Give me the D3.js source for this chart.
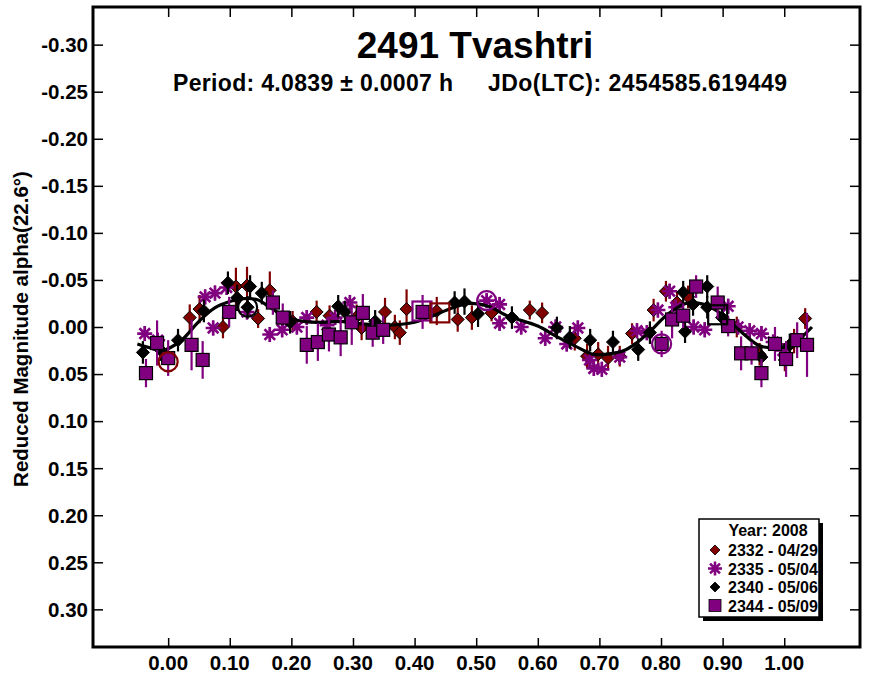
<!DOCTYPE html>
<html><head><meta charset="utf-8">
<script src="https://cdn.jsdelivr.net/npm/d3@7"></script>
<style>
body{margin:0;background:#fff}
svg{display:block}
text{font-family:"Liberation Sans",Arial,sans-serif;font-weight:bold;fill:#000}
</style>
</head><body>
<svg id="chart" width="869" height="678"></svg>
<script>
// ---------- data ----------
const titleText = "2491 Tvashtri";
const subtitleLeft = "Period: 4.0839 \u00b1 0.0007 h";
const subtitleRight = "JDo(LTC): 2454585.619449";
const yLabelText = "Reduced Magnitude alpha(22.6\u00b0)";
const legendTitle = "Year: 2008";
const sessionNames = ["2332 - 04/29", "2335 - 05/04", "2340 - 05/06", "2344 - 05/09"];
const xTickValues = [0.0, 0.1, 0.2, 0.3, 0.4, 0.5, 0.6, 0.7, 0.8, 0.9, 1.0];
const yTickValues = [-0.30, -0.25, -0.20, -0.15, -0.10, -0.05, 0.00, 0.05, 0.10, 0.15, 0.20, 0.25, 0.30];

// [phase, reduced mag, error]
const s2332 = [
  [0.035,-0.010,0.014],[0.051,-0.019,0.015],[0.089,0.000,0.012],[0.110,-0.043,0.020],[0.128,-0.044,0.020],
  [0.146,-0.009,0.010],[0.165,-0.039,0.020],[0.202,-0.006,0.011],[0.241,-0.016,0.012],[0.262,-0.012,0.011],
  [0.306,-0.011,0.013],[0.314,0.001,0.013],[0.352,-0.016,0.015],[0.368,0.000,0.013],[0.376,0.006,0.013],
  [0.387,-0.019,0.021],[0.436,-0.017,0.015],[0.470,-0.008,0.013],[0.493,-0.010,0.013],[0.525,-0.015,0.009],
  [0.587,-0.018,0.010],[0.607,-0.015,0.011],[0.660,0.012,0.013],[0.680,0.031,0.013],[0.698,0.029,0.013],
  [0.714,0.033,0.013],[0.733,0.031,0.011],[0.753,0.007,0.011],[0.788,-0.018,0.012],[0.808,-0.038,0.011],
  [0.826,-0.026,0.012],[0.844,-0.032,0.012],[0.923,0.000,0.011],[0.960,0.029,0.012],[1.001,0.035,0.012],
  [1.016,0.015,0.013],[1.034,-0.009,0.011]
];
const s2335 = [
  [-0.038,0.007,0.008],[-0.017,0.014,0.008],[0.060,-0.032,0.008],[0.076,-0.036,0.008],[0.095,-0.042,0.008],
  [0.073,0.001,0.008],[0.128,-0.016,0.008],[0.165,0.008,0.008],[0.185,0.003,0.008],[0.209,0.000,0.008],
  [0.225,-0.010,0.008],[0.258,-0.002,0.008],[0.271,-0.010,0.008],[0.295,-0.026,0.008],[0.517,-0.028,0.008],
  [0.538,-0.024,0.008],[0.538,-0.004,0.008],[0.573,0.000,0.008],[0.612,0.012,0.008],[0.629,0.000,0.008],
  [0.647,0.018,0.008],[0.665,0.001,0.008],[0.684,0.035,0.008],[0.691,0.044,0.008],[0.704,0.045,0.008],
  [0.733,0.032,0.008],[0.761,0.004,0.008],[0.777,0.006,0.008],[0.795,-0.018,0.008],[0.814,-0.038,0.008],
  [0.824,-0.021,0.008],[0.853,0.000,0.008],[0.871,0.003,0.008],[0.909,-0.022,0.008],[0.925,0.000,0.008],
  [0.944,0.004,0.008],[0.963,0.007,0.008],[0.982,0.016,0.008],[0.998,0.025,0.008]
];
const s2340 = [
  [-0.041,0.027,0.012],[-0.013,0.024,0.012],[0.016,0.014,0.012],[0.058,-0.017,0.012],[0.097,-0.047,0.012],
  [0.112,-0.031,0.014],[0.133,-0.043,0.012],[0.152,-0.036,0.012],[0.129,-0.021,0.012],[0.198,-0.005,0.012],
  [0.276,-0.022,0.012],[0.287,-0.016,0.012],[0.336,-0.006,0.012],[0.465,-0.026,0.012],[0.481,-0.027,0.014],
  [0.503,-0.014,0.014],[0.558,-0.010,0.012],[0.631,0.001,0.012],[0.652,0.011,0.012],[0.685,0.014,0.012],
  [0.722,0.016,0.012],[0.763,0.024,0.012],[0.782,0.006,0.012],[0.836,-0.037,0.012],[0.839,0.005,0.012],
  [0.852,-0.024,0.012],[0.875,-0.043,0.012],[0.875,-0.021,0.012],[0.899,-0.010,0.012],[0.963,0.032,0.012],
  [1.009,0.019,0.012]
];
const s2344 = [
  [-0.036,0.049,0.015],[-0.018,0.017,0.024],[0.000,0.033,0.019],[0.038,0.019,0.027],[0.056,0.035,0.020],
  [0.099,-0.016,0.016],[0.170,-0.026,0.013],[0.186,-0.010,0.015],[0.225,0.019,0.020],[0.243,0.016,0.020],
  [0.261,0.008,0.018],[0.280,0.011,0.020],[0.298,-0.005,0.024],[0.316,-0.015,0.020],[0.332,0.006,0.015],
  [0.349,0.003,0.015],[0.413,-0.016,0.018],[0.801,0.018,0.014],[0.818,-0.008,0.020],[0.836,-0.012,0.013],
  [0.857,-0.043,0.012],[0.892,-0.026,0.017],[0.909,-0.001,0.011],[0.930,0.028,0.018],[0.947,0.028,0.012],
  [0.963,0.049,0.015],[0.985,0.018,0.018],[1.003,0.034,0.019],[1.021,0.014,0.019],[1.037,0.019,0.034]
];
// Fourier fit curve [phase, mag]
const fitCurve = [
  [-0.050,0.018],[-0.030,0.022],[-0.010,0.025],[0.020,0.015],[0.050,-0.006],[0.075,-0.020],[0.100,-0.027],
  [0.120,-0.030],[0.145,-0.029],[0.165,-0.021],[0.190,-0.011],[0.220,-0.006],[0.250,-0.005],[0.280,-0.006],
  [0.320,-0.003],[0.360,-0.002],[0.400,-0.005],[0.430,-0.012],[0.460,-0.020],[0.490,-0.025],[0.520,-0.022],
  [0.550,-0.012],[0.600,-0.001],[0.630,0.010],[0.660,0.020],[0.690,0.029],[0.710,0.029],[0.740,0.025],
  [0.760,0.017],[0.780,0.006],[0.810,-0.013],[0.840,-0.025],[0.870,-0.024],[0.900,-0.013],[0.930,0.005],
  [0.960,0.020],[0.990,0.022],[1.010,0.020],[1.045,0.000]
];
// session start markers [phase, mag, sessionIndex, shape]
const startMarks = [
  [0.000,0.037,0,"circle"],[0.129,-0.021,2,"circle"],[0.412,-0.017,3,"square"],[0.441,-0.015,0,"square"],
  [0.517,-0.028,1,"circle"],[0.801,0.018,1,"circle"],[0.892,-0.013,2,"square"]
];

// ---------- layout ----------
const svg = d3.select("#chart");
const L = 93, R = 860, T = 7, B = 647;
const x = d3.scaleLinear().domain([-0.122, 1.123]).range([L, R]);
const y = d3.scaleLinear().domain([-0.34, 0.34]).range([T, B]);
const RED = "#800000", PUR = "#800080", BLK = "#000000";
const colors = [RED, PUR, BLK, PUR];

svg.append("rect").attr("width",869).attr("height",678).attr("fill","#fff");

// axes (ticks inward) via d3 axes
const fmt = d => d3.format(".2f")(d).replace("\u2212","-");
const axL = svg.append("g").attr("transform",`translate(${L},0)`)
  .call(d3.axisRight(y).tickValues(yTickValues).tickSize(10).tickFormat(""));
const axR = svg.append("g").attr("transform",`translate(${R},0)`)
  .call(d3.axisLeft(y).tickValues(yTickValues).tickSize(10).tickFormat(""));
const axB = svg.append("g").attr("transform",`translate(0,${B})`)
  .call(d3.axisTop(x).tickValues(xTickValues).tickSize(9).tickFormat(""));
const axT = svg.append("g").attr("transform",`translate(0,${T})`)
  .call(d3.axisBottom(x).tickValues(xTickValues).tickSize(10).tickFormat(""));
[axL,axR,axB,axT].forEach(g=>{
  g.select(".domain").remove();
  g.selectAll(".tick line").attr("stroke","#000").attr("stroke-width",1.5);
});
// tick labels
svg.append("g").selectAll("text").data(yTickValues).join("text")
  .attr("x", 88).attr("y", d=>y(d)).attr("dy","0.36em")
  .attr("text-anchor","end").style("font-size","20.5px").text(d=>fmt(d));
svg.append("g").selectAll("text").data(xTickValues).join("text")
  .attr("x", d=>x(d)).attr("y", 670)
  .attr("text-anchor","middle").style("font-size","20.5px").text(d=>fmt(d));

// frame
svg.append("rect").attr("x",L).attr("y",T).attr("width",R-L).attr("height",B-T)
  .attr("fill","none").attr("stroke","#000").attr("stroke-width",3);

// titles
svg.append("text").attr("x",475).attr("y",58).attr("text-anchor","middle")
  .style("font-size","37px").text(titleText);
svg.append("text").attr("x",173).attr("y",91).attr("textLength",280).style("font-size","23px").text(subtitleLeft);
svg.append("text").attr("x",488).attr("y",91).attr("textLength",299).style("font-size","23px").text(subtitleRight);
svg.append("text").attr("transform","translate(28,329) rotate(-90)").attr("text-anchor","middle")
  .style("font-size","20.5px").text(yLabelText);

// plotting
const plot = svg.append("g");
function errBars(data, color){
  plot.append("g").selectAll("line").data(data).join("line")
    .attr("x1",d=>x(d[0])).attr("x2",d=>x(d[0]))
    .attr("y1",d=>y(d[1]-d[2])).attr("y2",d=>y(d[1]+d[2]))
    .attr("stroke",color).attr("stroke-width",2.2);
}
function diamonds(data, fill, r){
  plot.append("g").selectAll("path").data(data).join("path")
    .attr("d",d=>{const cx=x(d[0]),cy=y(d[1]);return `M${cx},${cy-r}L${cx+r},${cy}L${cx},${cy+r}L${cx-r},${cy}Z`;})
    .attr("fill",fill).attr("stroke","#000").attr("stroke-width",1);
}
function stars(g, pts, color, r){
  g.selectAll("path").data(pts).join("path")
    .attr("d",d=>{
      const cx=d[0],cy=d[1];let s="";
      for(let k=0;k<4;k++){const a=k*Math.PI/4;const dx=r*Math.cos(a),dy=r*Math.sin(a);
        s+=`M${cx-dx},${cy-dy}L${cx+dx},${cy+dy}`;}
      return s;})
    .attr("stroke",color).attr("stroke-width",2.6).attr("fill","none");
}
function squares(data, fill, h){
  plot.append("g").selectAll("rect").data(data).join("rect")
    .attr("x",d=>x(d[0])-h).attr("y",d=>y(d[1])-h).attr("width",2*h).attr("height",2*h)
    .attr("fill",fill).attr("stroke","#000").attr("stroke-width",1.2);
}

errBars(s2332, RED); diamonds(s2332, RED, 6.5);
errBars(s2335, PUR); stars(plot.append("g"), s2335.map(d=>[x(d[0]),y(d[1])]), PUR, 7.5);
errBars(s2340, BLK); diamonds(s2340, BLK, 6.5);

const line = d3.line().x(d=>x(d[0])).y(d=>y(d[1])).curve(d3.curveCatmullRom);
plot.append("path").datum(fitCurve).attr("d",line).attr("fill","none")
  .attr("stroke","#000").attr("stroke-width",3.2);

errBars(s2344, PUR); squares(s2344, PUR, 6.5);

// session-start markers
plot.append("g").selectAll("g").data(startMarks).join("g").each(function(d){
  const g=d3.select(this), cx=x(d[0]), cy=y(d[1]), c=colors[d[2]];
  if(d[3]==="circle") g.append("circle").attr("cx",cx).attr("cy",cy).attr("r",9.5)
      .attr("fill","none").attr("stroke",c).attr("stroke-width",2.2);
  else g.append("rect").attr("x",cx-9.5).attr("y",cy-9.5).attr("width",19).attr("height",19)
      .attr("fill","none").attr("stroke",c).attr("stroke-width",2.2);
});

// legend
const lg = svg.append("g");
lg.append("rect").attr("x",703).attr("y",523).attr("width",120).attr("height",98).attr("fill","#000");
lg.append("rect").attr("x",699).attr("y",519).attr("width",120).attr("height",98)
  .attr("fill","#fff").attr("stroke","#000").attr("stroke-width",1.5);
lg.append("text").attr("x",768).attr("y",536).attr("text-anchor","middle").style("font-size","16px").text(legendTitle);
const rowY = i => 550 + i*18.5;
sessionNames.forEach((name,i)=>{
  const cy=rowY(i), cx=715, c=colors[i];
  if(i===0||i===2){
    const r=5;
    lg.append("path").attr("d",`M${cx},${cy-r}L${cx+r},${cy}L${cx},${cy+r}L${cx-r},${cy}Z`)
      .attr("fill",c).attr("stroke","#000").attr("stroke-width",0.8);
  } else if(i===1){
    stars(lg.append("g"), [[cx,cy]], PUR, 7);
  } else {
    lg.append("rect").attr("x",cx-6).attr("y",cy-6).attr("width",12).attr("height",12)
      .attr("fill",PUR).attr("stroke","#000").attr("stroke-width",0.8);
  }
  lg.append("text").attr("x",728).attr("y",cy+6).style("font-size","16px").text(name);
});
</script>
</body></html>
